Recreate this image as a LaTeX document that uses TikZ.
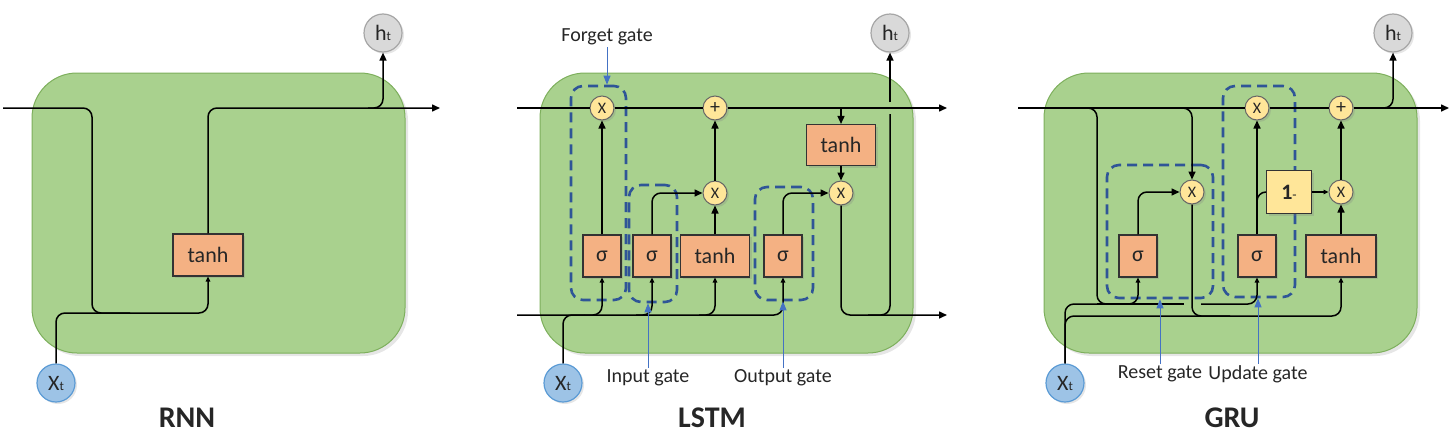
\documentclass[tikz,border=0pt]{standalone}
\usepackage{fontspec}
\setmainfont{Carlito}
\usetikzlibrary{arrows.meta,positioning,shadows}
\definecolor{cellgreen}{HTML}{A9D18E}
\definecolor{cellborder}{HTML}{7DAF5C}
\definecolor{actorange}{HTML}{F4B183}
\definecolor{opyellow}{HTML}{FFE699}
\definecolor{gateblue}{HTML}{2F5597}
\definecolor{pointblue}{HTML}{4472C4}
\definecolor{hgray}{HTML}{D9D9D9}
\definecolor{hborder}{HTML}{A6A6A6}
\definecolor{xblue}{HTML}{9DC3E6}
\definecolor{xborder}{HTML}{5B9BD5}
\definecolor{ink}{HTML}{262626}
\newcommand{\tsub}[1]{{\fontsize{13}{13}\selectfont #1}}

\begin{document}
\begin{tikzpicture}[x=1pt,y=-1pt,line width=1.5pt,text=ink]
	  \tikzstyle{cell}=[draw=cellborder,fill=cellgreen,line width=1pt,rounded corners=45pt,minimum width=373pt,minimum height=280pt,drop shadow={opacity=0.2,shadow xshift=3pt,shadow yshift=-3pt}]
	  \tikzstyle{act}=[draw=black!80,fill=actorange,line width=1.1pt,inner sep=0pt,minimum height=42pt,minimum width=38pt,font=\fontsize{22}{24}\selectfont,drop shadow={opacity=0.25,shadow xshift=2pt,shadow yshift=-2pt}]
	  \tikzstyle{op}=[circle,draw=black!60,fill=opyellow,line width=1pt,inner sep=0pt,minimum size=24pt,font=\fontsize{16}{16}\selectfont,drop shadow={opacity=0.25,shadow xshift=2pt,shadow yshift=-2pt}]
	  \tikzstyle{hid}=[circle,draw=hborder,fill=hgray,line width=1.2pt,inner sep=0pt,minimum size=38pt,font=\fontsize{22}{22}\selectfont,drop shadow={opacity=0.2,shadow xshift=2pt,shadow yshift=-2pt}]
	  \tikzstyle{inp}=[circle,draw=xborder,fill=xblue,line width=1.2pt,inner sep=0pt,minimum size=38pt,font=\fontsize{22}{22}\selectfont,drop shadow={opacity=0.2,shadow xshift=2pt,shadow yshift=-2pt}]
	  \tikzstyle{gate}=[draw=gateblue,line width=2.6pt,dash pattern=on 10pt off 6pt,rounded corners=12pt,inner sep=0pt]
	  \tikzstyle{wire}=[draw=black,line width=1.5pt,rounded corners=9pt]
	  \tikzstyle{into}=[-{Triangle[length=8pt,width=7pt]}]
	  \tikzstyle{feed}=[-{Triangle[length=5pt,width=4.5pt]}]
	  \tikzstyle{pointer}=[draw=pointblue,line width=0.9pt,-{Triangle[length=9pt,width=7pt]}]
	  \tikzstyle{lbl}=[font=\fontsize{20}{22}\selectfont,inner sep=1pt]
	  \tikzstyle{title}=[font=\fontsize{30}{32}\selectfont\bfseries]

	  \useasboundingbox (0,0) rectangle (1450,442);

	  % cells
	  \node[cell] (rnn) at (218.5,213) {};
	  \node[cell] (lstm) at (726.5,213) {};
	  \node[cell] (gru) at (1230.5,213) {};

	  % RNN
	  \node[act,minimum width=70pt] (r-tanh) at (208,255) {tanh};
	  \node[hid] (r-h) at (383,33) {h\tsub{t}};
	  \node[inp] (r-x) at (56,383) {X\tsub{t}};
	  \coordinate (r-hin) at (3,108);
	  \coordinate (r-hout) at (440,108);
	  \coordinate (r-join) at (92,313);
	  \coordinate (r-bus) at (130,313);
	  \coordinate (r-split) at (368,108);

	  \draw[wire,feed] (r-hin) -| (r-join) -| (r-tanh.south);
	  \draw[wire] (r-x) |- (r-bus);
	  \draw[wire,into] (r-tanh) |- (r-hout);
	  \draw[wire,into] (r-split) -| (r-h);

	  % LSTM
	  \node[gate,minimum width=55pt,minimum height=214pt] (l-fg) at (598.5,193) {};
	  \node[gate,minimum width=48pt,minimum height=117pt] (l-ig) at (653,243.5) {};
	  \node[gate,minimum width=58pt,minimum height=113pt] (l-og) at (784,243.5) {};
	  \node[op] (l-f) at (602,108) {X};
	  \node[op,font=\fontsize{20}{20}\selectfont] (l-add) at (715,108) {+};
	  \node[op] (l-i) at (715,193) {X};
	  \node[op] (l-o) at (841,193) {X};
	  \node[act] (l-fs) at (602,256) {σ};
	  \node[act] (l-is) at (652,256) {σ};
	  \node[act,minimum width=69pt] (l-tanh) at (715,256) {tanh};
	  \node[act] (l-os) at (783,256) {σ};
	  \node[act,minimum width=69pt,minimum height=41pt] (l-ct) at (841,145) {tanh};
	  \node[hid] (l-h) at (890,33) {h\tsub{t}};
	  \node[inp] (l-x) at (563,383) {X\tsub{t}};
	  \coordinate (l-cin) at (517,108);
	  \coordinate (l-cout) at (947,108);
	  \coordinate (l-hin) at (517,315);
	  \coordinate (l-hout) at (947,315);
	  \coordinate (l-b1) at (584,315);
	  \coordinate (l-b2) at (636,315);
	  \coordinate (l-b3) at (699,315);
	  \coordinate (l-hsplit) at (868,315);
	  \coordinate (l-gapbot) at (890,114);
	  \coordinate (l-gaptop) at (890,102);

	  \draw[wire,into] (l-cin) -- (l-f) -- (l-add) -- (l-cout);
	  \draw[wire,feed] (l-hin) -| (l-os.south);
	  \draw[wire,feed] (l-b1) -| (l-fs.south);
	  \draw[wire,feed] (l-b2) -| (l-is.south);
	  \draw[wire,feed] (l-b3) -| (l-tanh.south);
	  \draw[wire] (l-x) |- (l-b1);
	  \draw[wire,into] (l-fs) -- (l-f);
	  \draw[wire,into] (l-is) |- (l-i);
	  \draw[wire,into] (l-tanh) -- (l-i);
	  \draw[wire,into] (l-i) -- (l-add);
	  \draw[wire,into] (l-ct.north |- l-cin) -- (l-ct);
	  \draw[wire,into] (l-ct) -- (l-o);
	  \draw[wire,into] (l-os) |- (l-o);
	  \draw[wire,into] (l-o) |- (l-hout);
	  \draw[wire] (l-hsplit) -| (l-gapbot);
	  \draw[wire,into] (l-gaptop) -- (l-h);

	  \node[lbl] (l-fl) at (607,37) {Forget gate};
	  \node[lbl] (l-il) at (648,378) {Input gate};
	  \node[lbl] (l-ol) at (783,378) {Output gate};
	  \draw[pointer] (l-fl) -- (l-fl |- l-fg.north);
	  \draw[pointer] (l-il) -- (l-il |- l-ig.south);
	  \draw[pointer] (l-ol) -- (l-ol |- l-og.south);

	  % GRU
	  \node[gate,minimum width=106pt,minimum height=133pt] (g-rg) at (1160,231.5) {};
	  \node[gate,minimum width=72pt,minimum height=211pt] (g-ug) at (1259,191.5) {};
	  \node[op] (g-u) at (1257,108) {X};
	  \node[op,font=\fontsize{20}{20}\selectfont] (g-add) at (1341,108) {+};
	  \node[op] (g-r) at (1192,192) {X};
	  \node[op] (g-m) at (1341,192) {X};
	  \node[act] (g-rs) at (1138,256) {σ};
	  \node[act] (g-us) at (1257,256) {σ};
	  \node[act,minimum width=70pt] (g-tanh) at (1341,256) {tanh};
	  \node[act,fill=opyellow,minimum width=45pt,minimum height=43pt] (g-one) at (1289,192) {\textbf{1}{\fontsize{14}{14}\selectfont -}};
	  \node[hid] (g-h) at (1393,33) {h\tsub{t}};
	  \node[inp] (g-x) at (1065,383) {X\tsub{t}};
	  \coordinate (g-cin) at (1018,108);
	  \coordinate (g-cout) at (1449,108);
	  \coordinate (g-d1) at (1078,108);
	  \coordinate (g-d2) at (1166,108);
	  \coordinate (g-d3) at (1372,108);
	  \coordinate (g-j1) at (1097,304);
	  \coordinate (g-j2) at (1110,304);
	  \coordinate (g-j4) at (1230,316);
	  \coordinate (g-gapl) at (1184,304);
	  \coordinate (g-gapr) at (1201,304);
	  \coordinate (g-b5) at (1257,218);

	  \draw[wire,into] (g-cin) -- (g-u) -- (g-add) -- (g-cout);
	  \draw[wire,feed] (g-d1) -| (g-j1) -| (g-rs.south);
	  \draw[wire,into] (g-d2) -| (g-r);
	  \draw[wire,into] (g-rs) |- (g-r);
	  \draw[wire] (g-x) |- (g-j2);
	  \draw[wire] (g-x) |- (g-j4);
	  \draw[wire] (g-j1) -- (g-gapl);
	  \draw[wire,feed] (g-gapr) -| (g-us.south);
	  \draw[wire,feed] (g-r) |- (g-j4) -| (g-tanh.south);
	  \draw[wire,into] (g-us) -- (g-u);
	  \draw[wire] (g-b5) |- (g-one);
	  \draw[wire,feed] (g-one) -- (g-m);
	  \draw[wire,into] (g-tanh) -- (g-m);
	  \draw[wire,into] (g-m) -- (g-add);
	  \draw[wire,into] (g-d3) -| (g-h);

	  \node[lbl] (g-rl) at (1160,374) {Reset gate};
	  \node[lbl] (g-ul) at (1258,374) {Update gate};
	  \draw[pointer] (g-rl) -- (g-rl |- g-rg.south);
	  \draw[pointer] (g-ul) -- (g-ul |- g-ug.south);

	  % titles
	  \node[title] (rnn-t) at (187,418) {RNN};
	  \node[title] (lstm-t) at (712,418) {LSTM};
	  \node[title] (gru-t) at (1232,418) {GRU};
	\end{tikzpicture}
\end{document}
